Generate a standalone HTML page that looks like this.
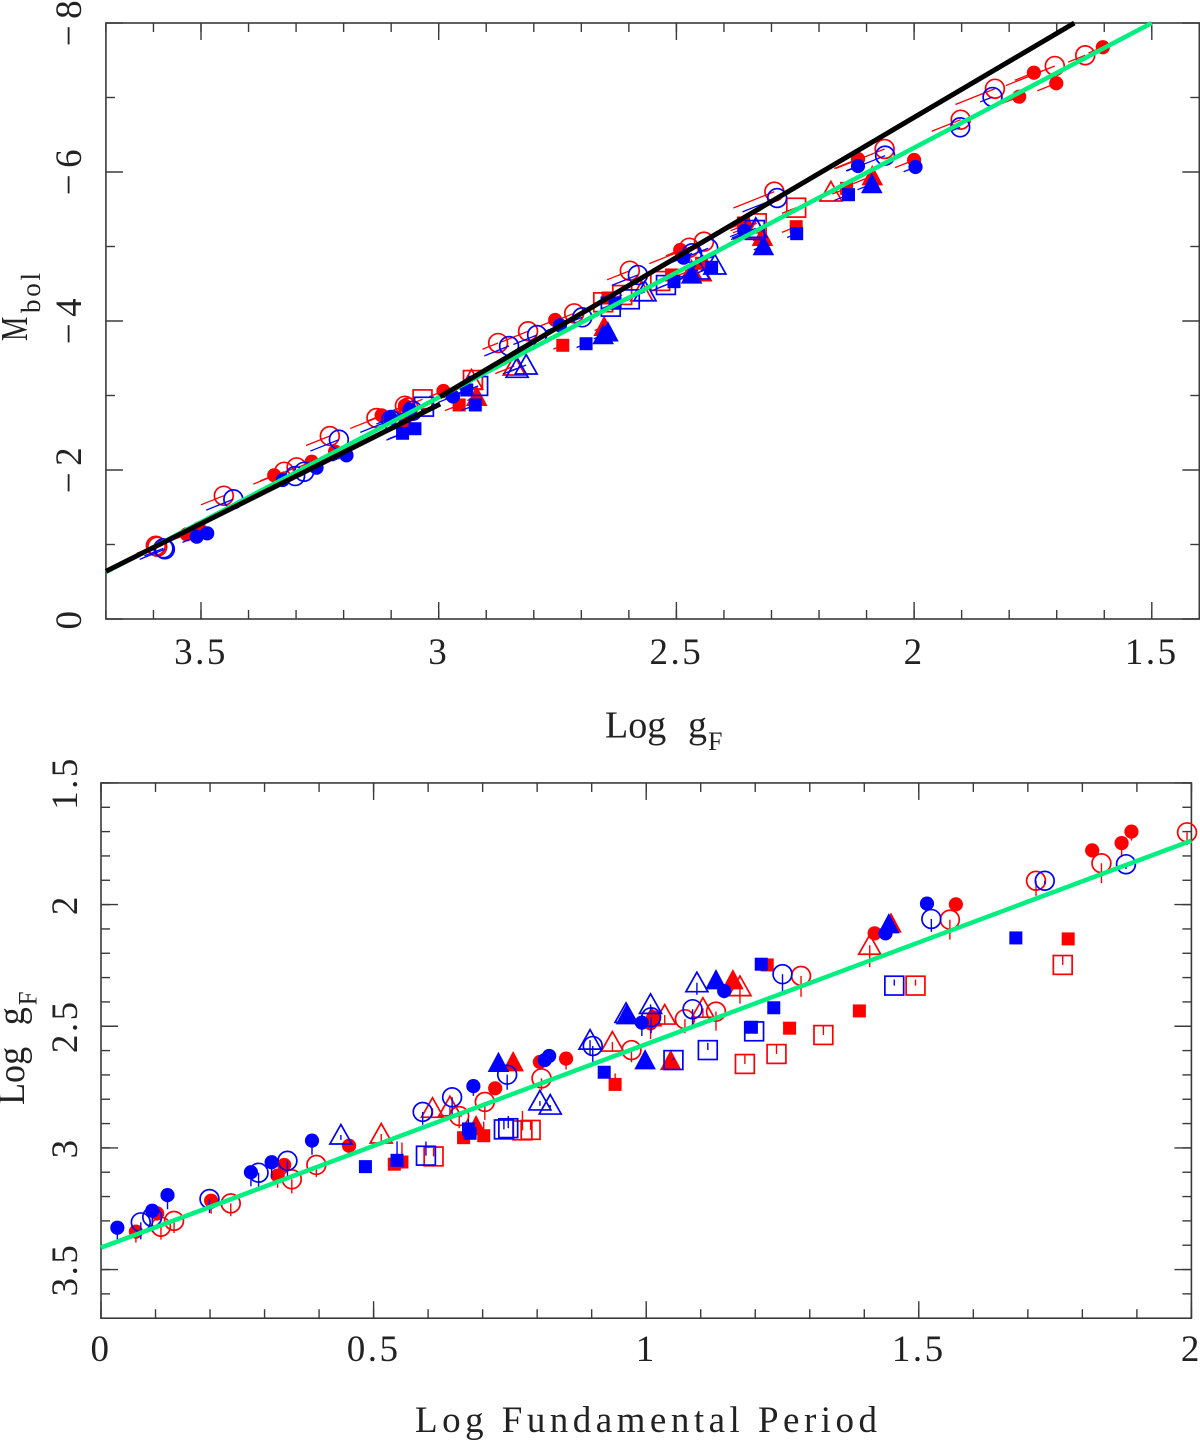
<!DOCTYPE html>
<html lang="en">
<head>
<meta charset="utf-8">
<title>Mbol, Log g and period relations</title>
<style>
html,body{margin:0;padding:0;background:#fff;}
svg{display:block;}
text{font-family:"Liberation Serif",serif;fill:#222;}
</style>
</head>
<body>
<svg id="chart" xmlns="http://www.w3.org/2000/svg" width="1200" height="1440" viewBox="0 0 1200 1440">
  <text y="737.5" font-size="38"><tspan x="605">Log</tspan><tspan x="688">g</tspan><tspan x="708" dy="12.7" font-size="26">F</tspan></text>
  <text transform="translate(27,341) rotate(-90) scale(.72,1)" font-size="38">M</text>
  <text transform="translate(40,313) rotate(-90)" font-size="27" textLength="40" lengthAdjust="spacing">bol</text>
  <text x="415" y="1432" font-size="37" textLength="462" lengthAdjust="spacing">Log Fundamental Period</text>
  <text transform="translate(24,1105) rotate(-90) scale(.95,1)" font-size="38"><tspan x="0">Log</tspan><tspan x="84">g</tspan><tspan x="105" dy="12.7" font-size="26">F</tspan></text>
</svg>
<script>
// Top panel tick data
const topXTicks = [3.5, 3, 2.5, 2, 1.5];
const topXTickLabels = ['3.5', '3', '2.5', '2', '1.5'];
const topYTicks = [0, -2, -4, -6, -8];
const topYTickLabels = ['0', '\u22122', '\u22124', '\u22126', '\u22128'];
// Bottom panel tick data
const botXTicks = [0, 0.5, 1, 1.5, 2];
const botXTickLabels = ['0', '0.5', '1', '1.5', '2'];
const botYTicks = [1.5, 2, 2.5, 3, 3.5];
const botYTickLabels = ['1.5', '2', '2.5', '3', '3.5'];

// Top panel fit lines: [log g, Mbol]
const topGreenLine = [[3.70, -0.63], [1.50, -8.0]];
const topBlackLineFaint = [[3.70, -0.64], [2.997, -2.886]];
const topBlackLineBright = [[2.997, -2.984], [1.663, -8.0]];
// Bottom panel fit line: [log P, log g]
const botGreenLine = [[0, 3.41], [2, 1.737]];

// Top panel stars: [log g, Mbol, reddening-vector length in log g]
const topRedOpenCircle = [[3.595,-.984,.04],[3.592,-.970,.04],[3.452,-1.655,.048],[3.325,-1.977,.065],[3.299,-2.036,.03],[3.229,-2.456,.05],[3.131,-2.698,.055],[3.071,-2.863,.04],[3.064,-2.84,.03],[2.875,-3.705,.033],[2.812,-3.862,.06],[2.715,-4.103,.03],[2.598,-4.675,.048],[2.473,-4.984,.084],[2.442,-5.065,.05],[2.294,-5.736,.086],[2.062,-6.309,.103],[1.902,-6.702,.061],[1.830,-7.118,.083],[1.704,-7.423,.103],[1.640,-7.567,.036]];
const topRedDisk = [[3.530,-1.137,.03],[3.504,-1.217,.02],[3.346,-1.929,.03],[3.267,-2.111,.03],[3.218,-2.246,.03],[3.120,-2.734,.03],[3.071,-2.863,.03],[2.990,-3.060,.03],[2.755,-4.013,.03],[2.492,-4.953,.03],[2.356,-5.289,.03],[2.118,-6.175,.05],[2.000,-6.161,.04],[1.779,-7.011,.035],[1.748,-7.333,.04],[1.701,-7.191,.04],[1.603,-7.674,.03]];
const topRedSquare = [[3.071,-2.648,.03],[2.957,-2.873,.03],[2.739,-3.674,.02],[2.644,-4.309,.03],[2.510,-4.618,.03],[2.447,-4.775,.03],[2.359,-5.316,.03],[2.248,-5.266,.03],[2.142,-5.781,.03]];
const topRedOpenSquare = [[3.034,-2.949,.03],[2.928,-3.208,.04],[2.654,-4.251,.03],[2.614,-4.349,.03],[2.534,-4.537,.03],[2.331,-5.311,.05],[2.248,-5.521,.03]];
const topRedTriangle = [[2.920,-2.984,.02],[2.652,-3.924,.02],[2.468,-4.685,.03],[2.319,-5.132,.02],[2.088,-5.946,.04]];
const topRedOpenTriangle = [[2.931,-3.208,.03],[2.841,-3.396,.04],[2.573,-4.393,.03],[2.450,-4.662,.05],[2.331,-5.222,.05],[2.175,-5.732,.03]];

const topBlueOpenCircle = [[3.576,-.936,.053],[3.579,-.949,.04],[3.432,-1.607,.057],[3.302,-1.919,.04],[3.283,-1.977,.04],[3.210,-2.407,.06],[3.100,-2.671,.065],[3.055,-2.796,.04],[2.852,-3.664,.052],[2.793,-3.812,.05],[2.698,-4.050,.03],[2.581,-4.618,.055],[2.467,-4.909,.05],[2.433,-4.976,.05],[2.288,-5.651,.073],[2.061,-6.219,.081],[1.903,-6.600,.02],[1.835,-7.007,.026]];
const topBlueDisk = [[3.509,-1.105,.03],[3.487,-1.150,.02],[3.328,-1.866,.03],[3.257,-2.031,.03],[3.194,-2.197,.03],[3.101,-2.694,.03],[3.060,-2.805,.03],[2.970,-2.987,.03],[2.745,-3.942,.03],[2.485,-4.850,.03],[2.357,-5.208,.03],[2.118,-6.081,.025],[1.997,-6.067,.025]];
const topBlueSquare = [[3.076,-2.493,.03],[3.050,-2.554,.06],[2.941,-3.074,.03],[2.923,-2.873,.03],[2.690,-3.695,.02],[2.629,-4.238,.03],[2.505,-4.528,.03],[2.426,-4.721,.03],[2.247,-5.172,.02],[2.138,-5.695,.03]];
const topBlueOpenSquare = [[3.031,-2.850,.03],[2.917,-3.128,.07],[2.638,-4.192,.03],[2.598,-4.291,.03],[2.522,-4.483,.03],[2.335,-5.222,.05]];
const topBlueTriangle = [[2.654,-3.812,.02],[2.644,-3.85,.02],[2.468,-4.627,.03],[2.317,-5.007,.02],[2.089,-5.839,.03]];
const topBlueOpenTriangle = [[2.835,-3.365,.03],[2.816,-3.409,.04],[2.566,-4.393,.03],[2.454,-4.685,.04],[2.419,-4.752,.03],[2.333,-5.244,.05]];

// Bottom panel stars: [log P, log g, error bar in log g (negative draws upward)]
const botRedDisk = [[.064,3.344,.045],[.103,3.269,.03],[.202,3.217,.053],[.324,3.114,.05],[.336,3.070,.02],[.455,2.991,.037],[.723,2.755,.01],[.805,2.647,.03],[.853,2.633,.045],[1.008,2.488,.065],[1.013,2.463,.03],[1.419,2.118,.02],[1.568,1.999,.01],[1.818,1.777,.01],[1.872,1.747,.058],[1.890,1.700,.037]];
const botRedOpenCircle = [[.110,3.324,.053],[.134,3.300,.05],[.238,3.228,.053],[.350,3.129,.058],[.395,3.070,.05],[.657,2.869,.05],[.704,2.811,.074],[.808,2.714,.05],[.973,2.598,.05],[1.071,2.471,.058],[1.128,2.440,.078],[1.284,2.293,.086],[1.557,2.062,.082],[1.715,1.902,.062],[1.835,1.830,.082],[1.992,1.703,.053]];
const botRedSquare = [[.538,3.067,0],[.552,3.058,-.08],[.665,2.958,0],[.702,2.950,-.058],[.943,2.739,-.045],[1.222,2.248,0],[1.263,2.508,0],[1.391,2.437,0],[1.774,2.141,0]];
const botRedOpenSquare = [[.610,3.035,-.035],[.773,2.928,-.08],[.788,2.926,-.04],[1.181,2.655,-.035],[1.239,2.614,-.04],[1.325,2.536,-.04],[1.494,2.333,-.025],[1.764,2.248,-.04]];
const botRedTriangle = [[.688,2.910,0],[.756,2.647,0],[1.010,2.463,0],[1.045,2.642,0],[1.159,2.310,0],[1.449,2.077,0]];
const botRedOpenTriangle = [[.514,2.943,.03],[.608,2.837,.03],[.640,2.831,.05],[.938,2.565,.035],[1.034,2.454,.04],[1.104,2.426,.04],[1.172,2.337,.07],[1.410,2.167,.09]];

const botBlueOpenCircle = [[.073,3.306,.07],[.094,3.284,.06],[.199,3.210,.058],[.289,3.102,.066],[.342,3.053,.066],[.590,2.852,.053],[.644,2.792,.074],[.745,2.699,.062],[.902,2.581,.066],[1.009,2.463,.066],[1.085,2.430,.066],[1.250,2.286,.07],[1.523,2.059,.053],[1.731,1.902,.015],[1.880,1.834,.02]];
const botBlueDisk = [[.030,3.328,.05],[.094,3.258,.03],[.122,3.194,.058],[.275,3.100,.058],[.313,3.059,.066],[.387,2.970,.058],[.683,2.746,.04],[.814,2.639,.01],[.822,2.622,.01],[.992,2.485,.055],[1.143,2.355,.03],[1.439,2.118,.01],[1.515,1.996,.01]];
const botBlueSquare = [[.485,3.077,0],[.543,3.051,-.078],[.674,2.922,-.04],[.677,2.940,0],[.923,2.689,0],[1.193,2.504,0],[1.211,2.245,0],[1.234,2.424,0],[1.678,2.137,0]];
const botBlueOpenSquare = [[.596,3.032,-.058],[.739,2.924,-.04],[.747,2.919,-.05],[1.050,2.639,-.01],[1.113,2.598,-.03],[1.198,2.521,0],[1.455,2.333,-.025]];
const botBlueTriangle = [[.729,2.650,0],[.964,2.454,0],[.998,2.639,0],[1.128,2.310,0],[1.445,2.080,0]];
const botBlueOpenTriangle = [[.440,2.947,.02],[.805,2.807,.02],[.824,2.824,.01],[.897,2.557,.06],[.963,2.447,.01],[1.008,2.410,.03],[1.093,2.321,.05]];

const NS = 'http://www.w3.org/2000/svg';
const svg = document.getElementById('chart');
const RED = '#ff0000', BLUE = '#0000ff', GREEN = '#00f080', AXIS = '#3a3a3a';
const REDDENING_SLOPE = 2.55;

// Axis functions
const xTop = v => 201 + (3.5 - v) * 475.4;
const yTop = v => 619 + v * 74.5;
const xBot = v => 101 + v * 545.2;
const yBot = v => 904.6 + (v - 2) * 243.3;

function make(tag, attrs, parent) {
  const el = document.createElementNS(NS, tag);
  for (const k in attrs) el.setAttribute(k, attrs[k]);
  (parent || svg).appendChild(el);
  return el;
}

function tickLine(x1, y1, x2, y2, name, parent) {
  const el = make('line', {x1, y1, x2, y2, stroke: AXIS, 'stroke-width': 1.4}, parent);
  
  
}

function drawFrame(panel, L, R, T, B, xMinors, xMajors, yMinors, yMajors, xf, yf) {
  const g = make('g', {});
  
  
  const rect = make('rect', {x: L, y: T, width: R - L, height: B - T, fill: 'none', stroke: AXIS, 'stroke-width': 1.6}, g);
  
  
  xMinors.forEach(v => {
    const x = xf(v);
    tickLine(x, B, x, B - 9, panel + '-x-minor-tick', g);
    tickLine(x, T, x, T + 9, panel + '-x-minor-tick-top', g);
  });
  xMajors.forEach(v => {
    const x = xf(v);
    tickLine(x, B, x, B - 17, panel + '-x-major-tick', g);
    tickLine(x, T, x, T + 17, panel + '-x-major-tick-top', g);
  });
  yMinors.forEach(v => {
    const y = yf(v);
    tickLine(L, y, L + 9, y, panel + '-y-minor-tick', g);
    tickLine(R, y, R - 9, y, panel + '-y-minor-tick-right', g);
  });
  yMajors.forEach(v => {
    const y = yf(v);
    tickLine(L, y, L + 17, y, panel + '-y-major-tick', g);
    tickLine(R, y, R - 17, y, panel + '-y-major-tick-right', g);
  });
}

function rangeStep(a, b, step) {
  const out = [];
  const n = Math.round((b - a) / step);
  for (let i = 0; i <= n; i++) out.push(+(a + i * step).toFixed(3));
  return out;
}

function xLabels(values, labels, xf, y, panel) {
  values.forEach((v, i) => {
    const t = make('text', {x: xf(v), y, 'text-anchor': 'middle', 'font-size': 37, 'letter-spacing': 2.5});
    
    
    t.textContent = labels[i];
  });
}

function yLabels(values, labels, yf, x, panel) {
  values.forEach((v, i) => {
    const isMinus = labels[i].charAt(0) === '\u2212';
    const cy = yf(v) - (isMinus ? 3 : 0);
    const t = make('text', {transform: 'translate(' + x + ',' + cy + ') rotate(-90)', 'text-anchor': 'middle', 'font-size': 37, 'letter-spacing': isMinus ? 6.5 : 2.5});
    
    
    t.textContent = labels[i];
  });
}

function marker(g, shape, cx, cy, color, name) {
  let el;
  if (shape === 'disk') {
    el = make('circle', {cx, cy, r: 7.1, fill: color}, g);
  } else if (shape === 'openCircle') {
    el = make('circle', {cx, cy, r: 9.4, fill: 'none', stroke: color, 'stroke-width': 1.7}, g);
  } else if (shape === 'square') {
    el = make('rect', {x: cx - 6.5, y: cy - 6.5, width: 13, height: 13, fill: color}, g);
  } else if (shape === 'openSquare') {
    el = make('rect', {x: cx - 9.4, y: cy - 9.4, width: 18.8, height: 18.8, fill: 'none', stroke: color, 'stroke-width': 1.7}, g);
  } else if (shape === 'triangle') {
    el = make('polygon', {points: cx + ',' + (cy - 11) + ' ' + (cx - 10.8) + ',' + (cy + 9.3) + ' ' + (cx + 10.8) + ',' + (cy + 9.3), fill: color}, g);
  } else {
    el = make('polygon', {points: cx + ',' + (cy - 10.5) + ' ' + (cx - 11) + ',' + (cy + 9) + ' ' + (cx + 11) + ',' + (cy + 9), fill: 'none', stroke: color, 'stroke-width': 1.7}, g);
  }
  
  
}

function drawTopSeries(data, shape, color, name) {
  const g = make('g', {});
  
  
  data.forEach(d => {
    const cx = xTop(d[0]), cy = yTop(d[1]);
    const seg = make('line', {x1: cx, y1: cy, x2: xTop(d[0] + d[2]), y2: yTop(d[1] + d[2] * REDDENING_SLOPE), stroke: color, 'stroke-width': 1.3}, g);
    
    
    marker(g, shape, cx, cy, color, 'top-' + name + '-point');
  });
}

function drawBotSeries(data, shape, color, name) {
  const g = make('g', {});
  
  
  data.forEach(d => {
    const cx = xBot(d[0]), cy = yBot(d[1]);
    if (d[2] !== 0) {
      const bar = make('line', {x1: cx, y1: cy, x2: cx, y2: yBot(d[1] + d[2]), stroke: color, 'stroke-width': 1.4}, g);
      
      
    }
    marker(g, shape, cx, cy, color, 'bottom-' + name + '-point');
  });
}

function fitLine(pts, xf, yf, color, width, name) {
  const el = make('line', {x1: xf(pts[0][0]), y1: yf(pts[0][1]), x2: xf(pts[1][0]), y2: yf(pts[1][1]), stroke: color, 'stroke-width': width}, svg);
  
  
}

// Top panel
drawFrame('top', xTop(3.7), xTop(1.4), yTop(-8), yTop(0),
  rangeStep(1.4, 3.7, 0.1), topXTicks, rangeStep(-7, -1, 2), topYTicks, xTop, yTop);
xLabels(topXTicks, topXTickLabels, xTop, 664, 'top');
yLabels(topYTicks, topYTickLabels, yTop, 81, 'top');

drawTopSeries(topRedOpenCircle, 'openCircle', RED, 'red-open-circle');
drawTopSeries(topRedOpenSquare, 'openSquare', RED, 'red-open-square');
drawTopSeries(topRedOpenTriangle, 'openTriangle', RED, 'red-open-triangle');
drawTopSeries(topRedDisk, 'disk', RED, 'red-disk');
drawTopSeries(topRedSquare, 'square', RED, 'red-square');
drawTopSeries(topRedTriangle, 'triangle', RED, 'red-triangle');
drawTopSeries(topBlueOpenCircle, 'openCircle', BLUE, 'blue-open-circle');
drawTopSeries(topBlueOpenSquare, 'openSquare', BLUE, 'blue-open-square');
drawTopSeries(topBlueOpenTriangle, 'openTriangle', BLUE, 'blue-open-triangle');
drawTopSeries(topBlueDisk, 'disk', BLUE, 'blue-disk');
drawTopSeries(topBlueSquare, 'square', BLUE, 'blue-square');
drawTopSeries(topBlueTriangle, 'triangle', BLUE, 'blue-triangle');

fitLine(topGreenLine, xTop, yTop, GREEN, 4.5, 'top-green-fit-line');
fitLine(topBlackLineFaint, xTop, yTop, '#000', 5, 'top-black-fit-line-faint');
fitLine(topBlackLineBright, xTop, yTop, '#000', 5, 'top-black-fit-line-bright');

// Bottom panel
drawFrame('bottom', xBot(0), xBot(2), yBot(1.5), yBot(3.7),
  rangeStep(0, 2, 0.1), botXTicks, rangeStep(1.5, 3.7, 0.1), botYTicks, xBot, yBot);
xLabels(botXTicks, botXTickLabels, xBot, 1361, 'bottom');
yLabels(botYTicks, botYTickLabels, yBot, 77, 'bottom');

drawBotSeries(botRedOpenCircle, 'openCircle', RED, 'red-open-circle');
drawBotSeries(botRedOpenSquare, 'openSquare', RED, 'red-open-square');
drawBotSeries(botRedOpenTriangle, 'openTriangle', RED, 'red-open-triangle');
drawBotSeries(botRedDisk, 'disk', RED, 'red-disk');
drawBotSeries(botRedSquare, 'square', RED, 'red-square');
drawBotSeries(botRedTriangle, 'triangle', RED, 'red-triangle');
drawBotSeries(botBlueOpenCircle, 'openCircle', BLUE, 'blue-open-circle');
drawBotSeries(botBlueOpenSquare, 'openSquare', BLUE, 'blue-open-square');
drawBotSeries(botBlueOpenTriangle, 'openTriangle', BLUE, 'blue-open-triangle');
drawBotSeries(botBlueDisk, 'disk', BLUE, 'blue-disk');
drawBotSeries(botBlueSquare, 'square', BLUE, 'blue-square');
drawBotSeries(botBlueTriangle, 'triangle', BLUE, 'blue-triangle');

fitLine(botGreenLine, xBot, yBot, GREEN, 4.5, 'bottom-green-fit-line');
</script>
</body>
</html>
